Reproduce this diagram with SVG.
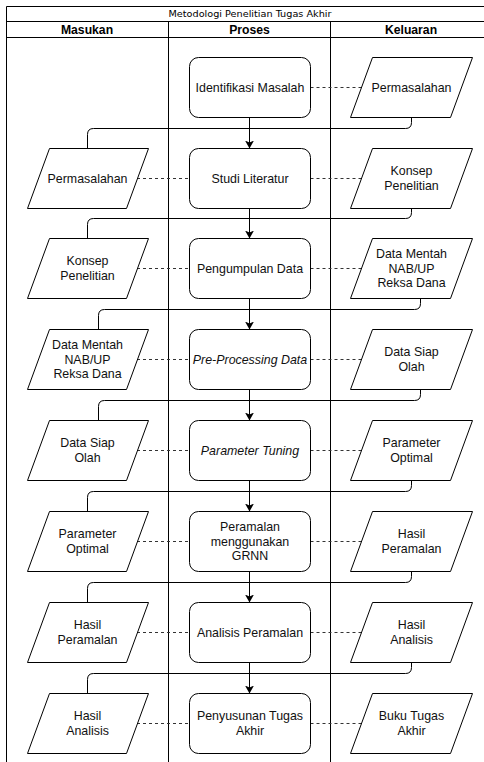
<svg xmlns="http://www.w3.org/2000/svg" width="484" height="762" viewBox="0 0 484 762">
<defs>
<marker id="arr" markerUnits="userSpaceOnUse" markerWidth="9" markerHeight="10" refX="8" refY="4.5" orient="auto">
<path d="M0,0 L8,4.5 L0,9 L2,4.5 Z" fill="#000"/>
</marker>
<style>
.t{font-family:"Liberation Sans",Arial,sans-serif;font-size:12.4px;fill:#111;text-anchor:middle}
.i{font-style:italic}
.h{font-family:"Liberation Sans",Arial,sans-serif;font-size:12.2px;font-weight:bold;fill:#000;text-anchor:middle}
.ttl{font-family:"DejaVu Sans","Liberation Sans",sans-serif;font-size:8.5px;fill:#000;text-anchor:middle}
.box{fill:#fff;stroke:#000;stroke-width:1}
.para{fill:#fff;stroke:#000;stroke-width:1}
.grid{stroke:#000;stroke-width:1;fill:none}
.flow{stroke:#000;stroke-width:1;fill:none}
.dash{stroke:#333;stroke-width:1;stroke-dasharray:3 3;fill:none}
</style>
</defs>
<rect x="0" y="0" width="484" height="762" fill="#fff"/>
<g id="table">
<path class="grid" d="M484,6.5 H6.5 V762 M6.5,21.5 H484 M6.5,37.5 H484 M168.5,21.5 V762 M330.5,21.5 V762"/>
<text class="ttl" x="250" y="17" textLength="163" lengthAdjust="spacingAndGlyphs">Metodologi Penelitian Tugas Akhir</text>
<text class="h" x="87" y="34">Masukan</text>
<text class="h" x="249.5" y="34">Proses</text>
<text class="h" x="411" y="34">Keluaran</text>
</g>
<g id="connectors">
<path class="flow" marker-end="url(#arr)" d="M249.5,117.5 V148.5"/>
<path class="flow" marker-end="url(#arr)" d="M249.5,208.5 V238.5"/>
<path class="flow" marker-end="url(#arr)" d="M249.5,298.5 V329.5"/>
<path class="flow" marker-end="url(#arr)" d="M249.5,389.5 V420.5"/>
<path class="flow" marker-end="url(#arr)" d="M249.5,480.5 V511.5"/>
<path class="flow" marker-end="url(#arr)" d="M249.5,571.5 V602.5"/>
<path class="flow" marker-end="url(#arr)" d="M249.5,662.5 V693.5"/>
<path class="flow" d="M411.5,117.5 V122.5 Q411.5,128.5 405.5,128.5 H93.5 Q87.5,128.5 87.5,134.5 V148.5"/>
<path class="flow" d="M411.5,208.5 V212.5 Q411.5,218.5 405.5,218.5 H93.5 Q87.5,218.5 87.5,224.5 V238.5"/>
<path class="flow" d="M420.5,298.5 V303.5 Q420.5,309.5 414.5,309.5 H104.5 Q98.5,309.5 98.5,315.5 V329.5"/>
<path class="flow" d="M420.5,389.5 V394.5 Q420.5,400.5 414.5,400.5 H104.5 Q98.5,400.5 98.5,406.5 V420.5"/>
<path class="flow" d="M411.5,480.5 V485.5 Q411.5,491.5 405.5,491.5 H93.5 Q87.5,491.5 87.5,497.5 V511.5"/>
<path class="flow" d="M411.5,571.5 V576.5 Q411.5,582.5 405.5,582.5 H93.5 Q87.5,582.5 87.5,588.5 V602.5"/>
<path class="flow" d="M411.5,662.5 V667.5 Q411.5,673.5 405.5,673.5 H93.5 Q87.5,673.5 87.5,679.5 V693.5"/>
<path class="dash" d="M310.5,87.5 H361.5"/>
<path class="dash" d="M137,178.5 H189.5 M310.5,178.5 H361.5"/>
<path class="dash" d="M137,268.5 H189.5 M310.5,268.5 H361.5"/>
<path class="dash" d="M137,359.5 H189.5 M310.5,359.5 H361.5"/>
<path class="dash" d="M137,450.5 H189.5 M310.5,450.5 H361.5"/>
<path class="dash" d="M137,541.5 H189.5 M310.5,541.5 H361.5"/>
<path class="dash" d="M137,632.5 H189.5 M310.5,632.5 H361.5"/>
<path class="dash" d="M137,723.5 H189.5 M310.5,723.5 H361.5"/>
</g>
<!-- Row 0 -->
<g id="p0"><rect class="box" x="189.5" y="57.5" width="121" height="60" rx="9"/><text class="t" x="250" y="91.5">Identifikasi Masalah</text></g>
<g id="o0"><polygon class="para" points="372.5,57.5 472.5,57.5 450.5,117.5 350.5,117.5"/><text class="t" x="411.5" y="91.5">Permasalahan</text></g>
<!-- Row 1 -->
<g id="i1"><polygon class="para" points="49.5,148.5 148.5,148.5 126.5,208.5 27.5,208.5"/><text class="t" x="87.5" y="182.5">Permasalahan</text></g>
<g id="p1"><rect class="box" x="189.5" y="148.5" width="121" height="60" rx="9"/><text class="t" x="250" y="182.5">Studi Literatur</text></g>
<g id="o1"><polygon class="para" points="372.5,148.5 472.5,148.5 450.5,208.5 350.5,208.5"/><text class="t" x="411.5" y="175.25">Konsep</text><text class="t" x="411.5" y="189.75">Penelitian</text></g>
<!-- Row 2 -->
<g id="i2"><polygon class="para" points="49.5,238.5 148.5,238.5 126.5,298.5 27.5,298.5"/><text class="t" x="87.5" y="265.25">Konsep</text><text class="t" x="87.5" y="279.75">Penelitian</text></g>
<g id="p2"><rect class="box" x="189.5" y="238.5" width="121" height="60" rx="9"/><text class="t" x="250" y="272.5">Pengumpulan Data</text></g>
<g id="o2"><polygon class="para" points="372.5,238.5 472.5,238.5 450.5,298.5 350.5,298.5"/><text class="t" x="411.5" y="258">Data Mentah</text><text class="t" x="411.5" y="272.5">NAB/UP</text><text class="t" x="411.5" y="287">Reksa Dana</text></g>
<!-- Row 3 -->
<g id="i3"><polygon class="para" points="49.5,329.5 148.5,329.5 126.5,389.5 27.5,389.5"/><text class="t" x="87.5" y="349">Data Mentah</text><text class="t" x="87.5" y="363.5">NAB/UP</text><text class="t" x="87.5" y="378">Reksa Dana</text></g>
<g id="p3"><rect class="box" x="189.5" y="329.5" width="121" height="60" rx="9"/><text class="t i" x="250" y="363.5">Pre-Processing Data</text></g>
<g id="o3"><polygon class="para" points="372.5,329.5 472.5,329.5 450.5,389.5 350.5,389.5"/><text class="t" x="411.5" y="356.25">Data Siap</text><text class="t" x="411.5" y="370.75">Olah</text></g>
<!-- Row 4 -->
<g id="i4"><polygon class="para" points="49.5,420.5 148.5,420.5 126.5,480.5 27.5,480.5"/><text class="t" x="87.5" y="447.25">Data Siap</text><text class="t" x="87.5" y="461.75">Olah</text></g>
<g id="p4"><rect class="box" x="189.5" y="420.5" width="121" height="60" rx="9"/><text class="t i" x="250" y="454.5">Parameter Tuning</text></g>
<g id="o4"><polygon class="para" points="372.5,420.5 472.5,420.5 450.5,480.5 350.5,480.5"/><text class="t" x="411.5" y="447.25">Parameter</text><text class="t" x="411.5" y="461.75">Optimal</text></g>
<!-- Row 5 -->
<g id="i5"><polygon class="para" points="49.5,511.5 148.5,511.5 126.5,571.5 27.5,571.5"/><text class="t" x="87.5" y="538.25">Parameter</text><text class="t" x="87.5" y="552.75">Optimal</text></g>
<g id="p5"><rect class="box" x="189.5" y="511.5" width="121" height="60" rx="9"/><text class="t" x="250" y="531">Peramalan</text><text class="t" x="250" y="545.5">menggunakan</text><text class="t" x="250" y="560">GRNN</text></g>
<g id="o5"><polygon class="para" points="372.5,511.5 472.5,511.5 450.5,571.5 350.5,571.5"/><text class="t" x="411.5" y="538.25">Hasil</text><text class="t" x="411.5" y="552.75">Peramalan</text></g>
<!-- Row 6 -->
<g id="i6"><polygon class="para" points="49.5,602.5 148.5,602.5 126.5,662.5 27.5,662.5"/><text class="t" x="87.5" y="629.25">Hasil</text><text class="t" x="87.5" y="643.75">Peramalan</text></g>
<g id="p6"><rect class="box" x="189.5" y="602.5" width="121" height="60" rx="9"/><text class="t" x="250" y="636.5">Analisis Peramalan</text></g>
<g id="o6"><polygon class="para" points="372.5,602.5 472.5,602.5 450.5,662.5 350.5,662.5"/><text class="t" x="411.5" y="629.25">Hasil</text><text class="t" x="411.5" y="643.75">Analisis</text></g>
<!-- Row 7 -->
<g id="i7"><polygon class="para" points="49.5,693.5 148.5,693.5 126.5,753.5 27.5,753.5"/><text class="t" x="87.5" y="720.25">Hasil</text><text class="t" x="87.5" y="734.75">Analisis</text></g>
<g id="p7"><rect class="box" x="189.5" y="693.5" width="121" height="60" rx="9"/><text class="t" x="250" y="720.25">Penyusunan Tugas</text><text class="t" x="250" y="734.75">Akhir</text></g>
<g id="o7"><polygon class="para" points="372.5,693.5 472.5,693.5 450.5,753.5 350.5,753.5"/><text class="t" x="411.5" y="720.25">Buku Tugas</text><text class="t" x="411.5" y="734.75">Akhir</text></g>
</svg>
